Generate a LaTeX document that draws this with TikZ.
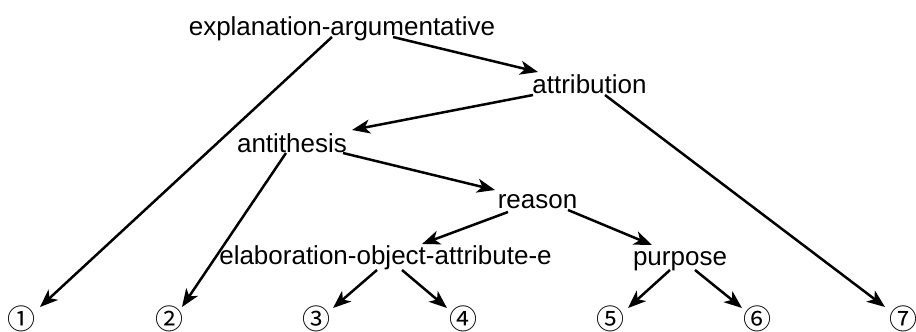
\documentclass[tikz,border=0pt]{standalone}
\usepackage{fontspec}
\setmainfont{Liberation Sans}
\newfontfamily\circfont{Noto Sans CJK JP}
\usepackage{tikz}
\usetikzlibrary{calc,arrows.meta}

\begin{document}
\begin{tikzpicture}[x=0.5pt,y=-0.5pt,
  rel/.style={font=\fontsize{13}{15}\selectfont,inner sep=0pt,anchor=base},
  leaf/.style={font=\circfont\fontsize{14}{16}\selectfont,inner sep=0pt},
  arr/.style={-{Stealth[length=9pt,width=7pt,inset=2.5pt]},line width=1.25pt}]
  \useasboundingbox (0,0) rectangle (916,332);
  \node[rel] (ea) at (342,35) {explanation-argumentative};
  \node[rel] (attr) at (589.5,93) {attribution};
  \node[rel] (anti) at (292,152) {antithesis};
  \node[rel] (reas) at (537.5,208) {reason};
  \node[rel] (elab) at (385.5,264) {elaboration-object-attribute-e};
  \node[rel] (purp) at (680,265) {purpose};
  \node[leaf] (d1) at (22,319) {①};
  \node[leaf] (d2) at (169,319) {②};
  \node[leaf] (d3) at (316,319) {③};
  \node[leaf] (d4) at (463,319) {④};
  \node[leaf] (d5) at (610,319) {⑤};
  \node[leaf] (d6) at (757,319) {⑥};
  \node[leaf] (d7) at (903,319) {⑦};
  \draw[arr] ($(ea.base)+(-10,2)$) -- ($(d1)+(18,-12)$);
  \draw[arr] ($(ea.base)+(51,2)$) -- ($(attr.base)+(-51.5,-21)$);
  \draw[arr] ($(attr.base)+(-56.5,2)$) -- ($(anti.base)+(60,-22)$);
  \draw[arr] ($(attr.base)+(15.5,2)$) -- ($(d7)+(-18,-12)$);
  \draw[arr] ($(anti.base)+(-6,1)$) -- ($(d2)+(13,-12)$);
  \draw[arr] ($(anti.base)+(51,1)$) -- ($(reas.base)+(-42.5,-18)$);
  \draw[arr] ($(reas.base)+(-29.5,4)$) -- ($(elab.base)+(36.5,-20)$);
  \draw[arr] ($(reas.base)+(30.5,2)$) -- ($(purp.base)+(-28,-20)$);
  \draw[arr] ($(elab.base)+(-8.5,6)$) -- ($(d3)+(17,-11)$);
  \draw[arr] ($(elab.base)+(16.5,6)$) -- ($(d4)+(-16,-11)$);
  \draw[arr] ($(purp.base)+(-10,5)$) -- ($(d5)+(18,-11)$);
  \draw[arr] ($(purp.base)+(15,5)$) -- ($(d6)+(-15,-11)$);
\end{tikzpicture}
\end{document}
